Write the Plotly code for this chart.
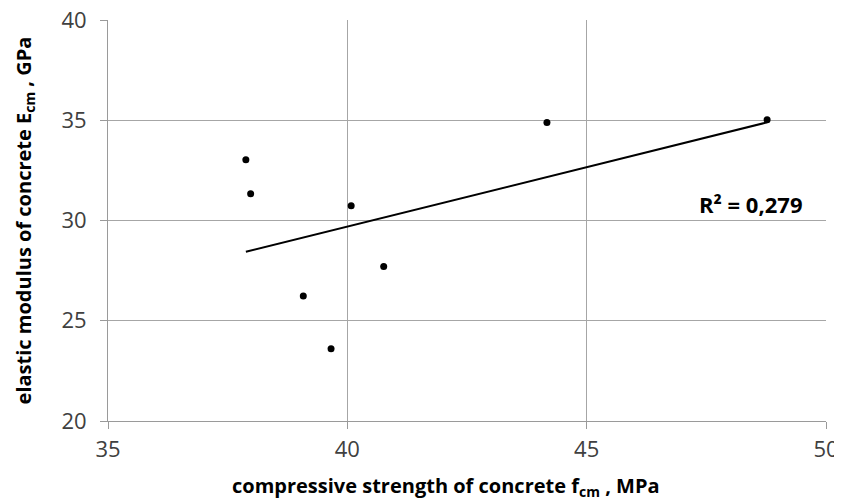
import numpy as np
import plotly.graph_objects as go

# data
fcm = [37.88, 37.98, 40.08, 40.76, 39.08, 39.66, 44.17, 48.77]   # MPa
ecm = [33.03, 31.33, 30.74, 27.70, 26.23, 23.60, 34.89, 35.03]   # GPa
r2_label = "R² = 0,279"
x_title = "compressive strength of concrete f<sub>cm</sub> , MPa"
y_title = "elastic modulus of concrete E<sub>cm</sub> , GPa"
x_ticks = [35, 40, 45, 50]
y_ticks = [20, 25, 30, 35, 40]

# linear trendline (least squares)
slope, intercept = np.polyfit(fcm, ecm, 1)
x_fit = [min(fcm), max(fcm)]
y_fit = [slope * v + intercept for v in x_fit]

FONT = "Open Sans, sans-serif"

fig = go.Figure()
fig.add_trace(go.Scatter(x=x_fit, y=y_fit, mode="lines",
                         line=dict(color="black", width=2), hoverinfo="skip",
                         showlegend=False))
fig.add_trace(go.Scatter(x=fcm, y=ecm, mode="markers",
                         marker=dict(color="black", size=7), showlegend=False))

fig.add_annotation(x=1.0, y=0.54, xref="paper", yref="paper",
                   xanchor="right", yanchor="middle", xshift=-22,
                   text="<b>" + r2_label + "</b>", showarrow=False,
                   font=dict(family=FONT, size=22, color="black"))

# x-axis title (slightly left of the plot centre, as in the reference)
fig.add_annotation(x=0.5, y=0, xref="paper", yref="paper",
                   xanchor="center", yanchor="middle", xshift=-21, yshift=-65,
                   text="<b>" + x_title + "</b>", showarrow=False,
                   font=dict(family=FONT, size=20, color="black"))

axis_common = dict(showline=True, linecolor="#9a9a9a", linewidth=1,
                   showgrid=True, gridcolor="#a6a6a6", gridwidth=1,
                   ticks="outside", ticklen=7, tickcolor="#9a9a9a",
                   tickfont=dict(family=FONT, size=22, color="#404040"),
                   ticklabeloverflow="allow",
                   zeroline=False, mirror=False, automargin=False)

fig.update_xaxes(range=[35, 50], tickvals=x_ticks, **axis_common,
                 ticklabelstandoff=2)
fig.update_yaxes(range=[20, 40], tickvals=y_ticks, **axis_common,
                 ticklabelstandoff=9,
                 title=dict(text="<b>" + y_title + "</b>",
                            font=dict(family=FONT, size=20, color="black"),
                            standoff=24))

# the page body adds an 8px offset, so the figure is 8px smaller than the window
fig.update_layout(width=834, height=493,
                  margin=dict(l=100, r=16, t=12, b=80),
                  plot_bgcolor="white", paper_bgcolor="white")

fig.write_html("out.html")
